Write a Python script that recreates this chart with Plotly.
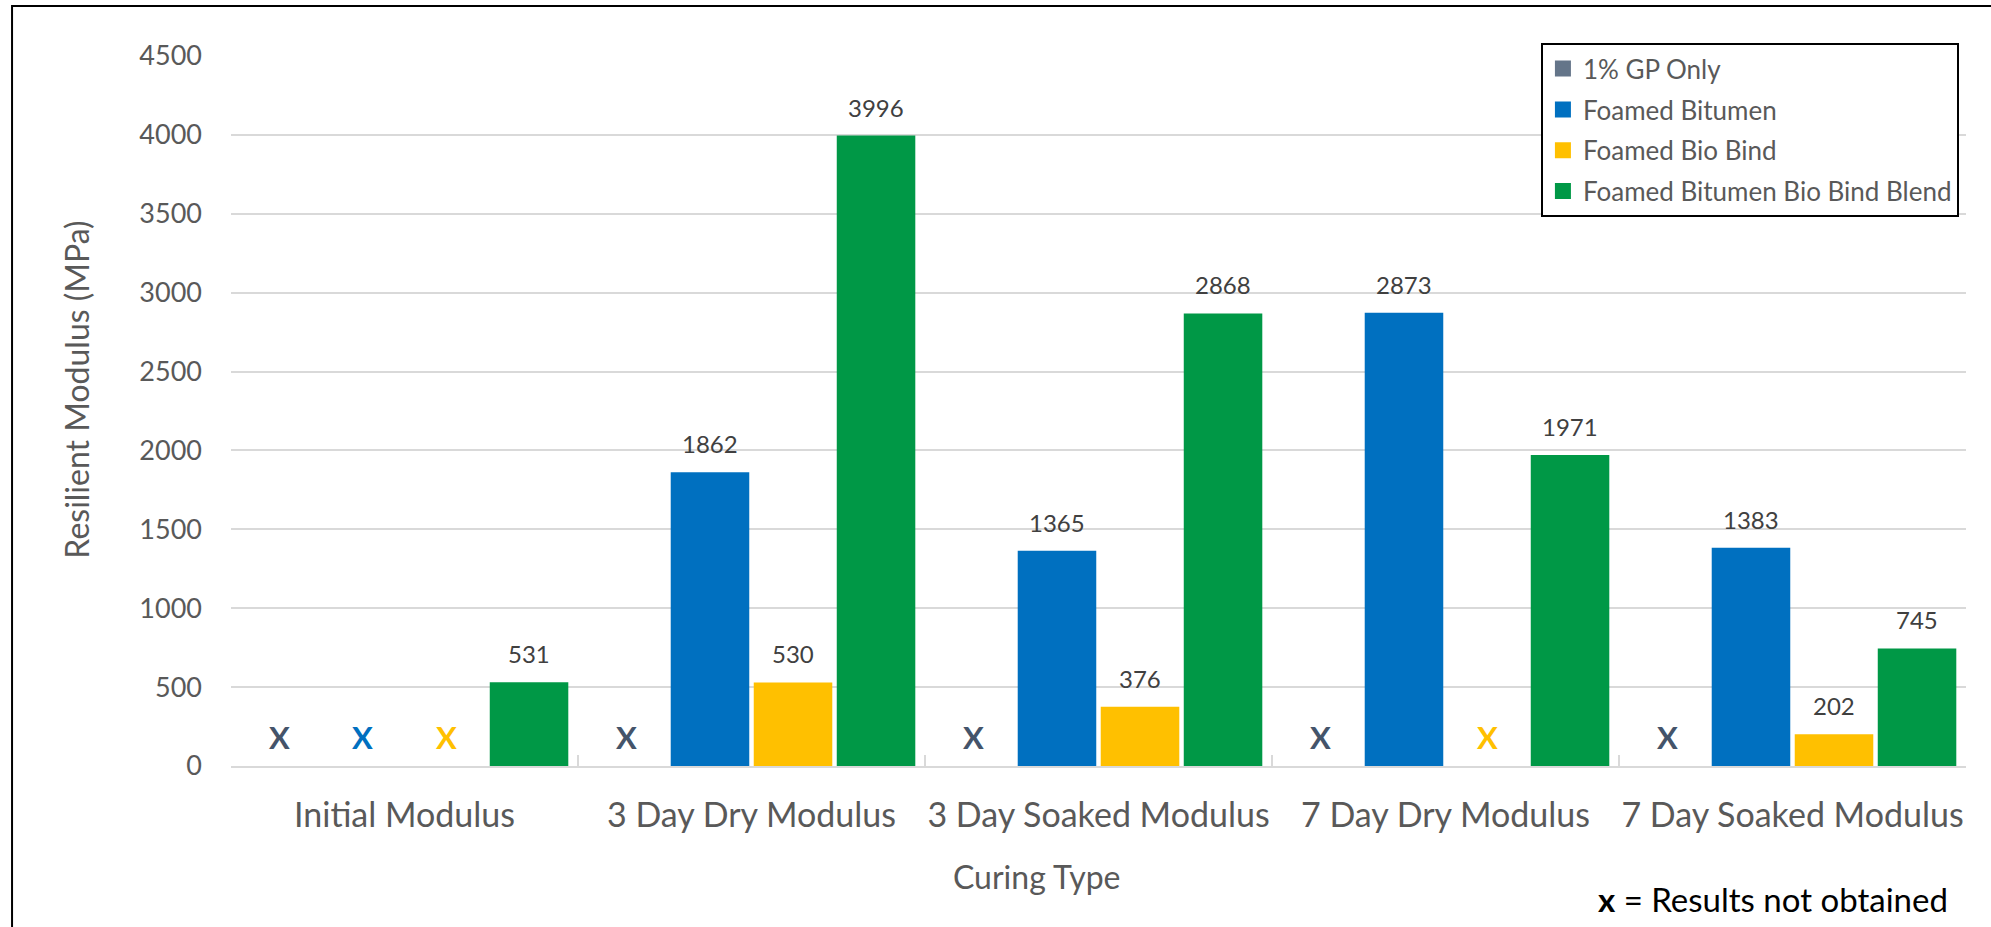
import plotly.graph_objects as go

# ---- data -------------------------------------------------------------
categories = [
    "Initial Modulus",
    "3 Day Dry Modulus",
    "3 Day Soaked Modulus",
    "7 Day Dry Modulus",
    "7 Day Soaked Modulus",
]
series_names = [
    "1% GP Only",
    "Foamed Bitumen",
    "Foamed Bio Bind",
    "Foamed Bitumen Bio Bind Blend",
]
gp_only = [None, None, None, None, None]
foamed_bitumen = [None, 1862, 1365, 2873, 1383]
foamed_bio_bind = [None, 530, 376, None, 202]
bitumen_bio_blend = [531, 3996, 2868, 1971, 745]
series_values = [gp_only, foamed_bitumen, foamed_bio_bind, bitumen_bio_blend]

y_ticks = [0, 500, 1000, 1500, 2000, 2500, 3000, 3500, 4000, 4500]

# ---- styling ----------------------------------------------------------
bar_colors = ["#44546A", "#0070C0", "#FFC000", "#009846"]
legend_colors = ["#647589", "#0070C0", "#FFC000", "#009846"]
mark_colors = ["#44546A", "#0070C0", "#FFC000", "#009846"]
FONT = "Lato, 'Open Sans', sans-serif"
GREY_TEXT = "#595959"
BAR_GAP = 0.043
BAR_GROUP_GAP = 0.054
MISSING_MARK_LEVEL = 185  # height (MPa) at which "X" placeholders sit
LABEL_LIFT = 12  # px between bar top and its value label

n_series = len(series_values)


def slot_center(cat_index, series_index):
    """Centre of a grouped bar slot, in category-axis units."""
    slot = (1 - BAR_GAP) / n_series
    return cat_index + (series_index - (n_series - 1) / 2) * slot


fig = go.Figure()

# bars (legend handled by square-marker entries below)
for name, values, color in zip(series_names, series_values, bar_colors):
    fig.add_trace(
        go.Bar(
            x=categories,
            y=values,
            name=name,
            marker=dict(color=color, line=dict(width=0)),
            showlegend=False,
            hoverinfo="x+y+name",
        )
    )

# legend entries with larger square swatches
for k, (name, color) in enumerate(zip(series_names, legend_colors)):
    fig.add_trace(
        go.Scatter(
            x=[None],
            y=[None],
            mode="markers",
            name=name,
            legendgroup=f"g{k}",
            marker=dict(symbol="square", size=17, color=color),
            showlegend=True,
        )
    )

annotations = []
for k, values in enumerate(series_values):
    for i, v in enumerate(values):
        xc = slot_center(i, k)
        if v is None:
            annotations.append(
                dict(
                    x=xc, y=MISSING_MARK_LEVEL, xref="x", yref="y",
                    text="<b>X</b>", showarrow=False,
                    font=dict(family=FONT, size=31, color=mark_colors[k]),
                    xanchor="center", yanchor="middle",
                )
            )
        else:
            annotations.append(
                dict(
                    x=xc, y=v, xref="x", yref="y",
                    text=str(v), showarrow=False,
                    font=dict(family=FONT, size=24, color="#404040"),
                    xanchor="center", yanchor="bottom", yshift=LABEL_LIFT,
                )
            )

# axis titles and footnote
annotations += [
    dict(
        x=-0.0888, y=0.53, xref="paper", yref="paper",
        text="Resilient Modulus (MPa)", textangle=-90, showarrow=False,
        font=dict(family=FONT, size=32, color=GREY_TEXT),
        xanchor="center", yanchor="middle",
    ),
    dict(
        x=0.4645, y=-0.155, xref="paper", yref="paper",
        text="Curing Type", showarrow=False,
        font=dict(family=FONT, size=32, color=GREY_TEXT),
        xanchor="center", yanchor="middle",
    ),
    dict(
        x=0.991, y=-0.187, xref="paper", yref="paper",
        text="<b>x</b> = Results not obtained", showarrow=False,
        font=dict(family=FONT, size=33, color="#000000"),
        xanchor="right", yanchor="middle",
    ),
]

fig.update_layout(
    width=1991,
    height=927,
    margin=dict(l=231, r=25, t=56, b=161),
    paper_bgcolor="white",
    plot_bgcolor="white",
    barmode="group",
    bargap=BAR_GAP,
    bargroupgap=BAR_GROUP_GAP,
    font=dict(family=FONT, color=GREY_TEXT),
    annotations=annotations,
    showlegend=True,
    legend=dict(
        x=0.755, y=1.018, xanchor="left", yanchor="top",
        bordercolor="#000000", borderwidth=2, bgcolor="white",
        font=dict(family=FONT, size=26, color=GREY_TEXT),
        tracegroupgap=4,
        itemsizing="trace",
    ),
    shapes=[
        dict(
            type="rect", xref="paper", yref="paper",
            x0=-0.1262, x1=1.06, y0=-0.3, y1=1.0704,
            line=dict(color="#000000", width=2), fillcolor="rgba(0,0,0,0)",
            layer="above",
        )
    ],
    xaxis=dict(
        type="category",
        categoryorder="array",
        categoryarray=categories,
        range=[-0.5, len(categories) - 0.5],
        automargin=False,
        showline=True, linecolor="#D9D9D9", linewidth=2,
        ticks="inside", tickson="boundaries", ticklen=11,
        tickcolor="#D9D9D9", tickwidth=2,
        showgrid=False,
        tickangle=0,
        tickfont=dict(family=FONT, size=34, color=GREY_TEXT),
        ticklabelstandoff=18,
    ),
    yaxis=dict(
        range=[0, 4500],
        automargin=False,
        tickvals=y_ticks,
        ticktext=[str(t) for t in y_ticks],
        showgrid=True, gridcolor="#D9D9D9", gridwidth=1.5,
        zeroline=False, showline=False, ticks="",
        tickfont=dict(family=FONT, size=27, color=GREY_TEXT),
        ticklabelstandoff=28,
    ),
)

fig.write_html("out.html")
